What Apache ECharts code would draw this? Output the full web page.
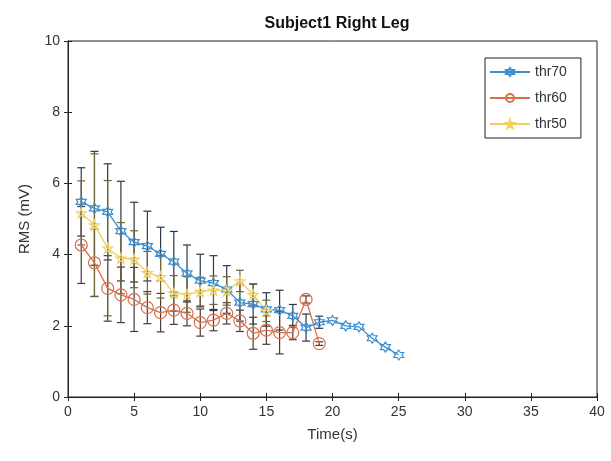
<!DOCTYPE html>
<html>
<head>
<meta charset="utf-8">
<script src="https://cdn.jsdelivr.net/npm/echarts@6/dist/echarts.min.js"></script>
<style>
html, body { margin: 0; padding: 0; background: #fff; }
#chart { width: 611px; height: 461px; }
</style>
</head>
<body>
<div id="chart"></div>
<script>
// time (s)
var t70 = [1, 2, 3, 4, 5, 6, 7, 8, 9, 10, 11, 12, 13, 14, 15, 16, 17, 18, 19, 20, 21, 22, 23, 24, 25];
var t60 = [1, 2, 3, 4, 5, 6, 7, 8, 9, 10, 11, 12, 13, 14, 15, 16, 17, 18, 19];
var t50 = [1, 2, 3, 4, 5, 6, 7, 8, 9, 10, 11, 12, 13, 14, 15];

// RMS means (mV)
var thr70 = [5.48, 5.3, 5.2, 4.66, 4.35, 4.24, 4.02, 3.8, 3.47, 3.27, 3.2, 3.02, 2.65, 2.61, 2.46, 2.44, 2.28, 1.95, 2.1, 2.15, 2.0, 1.97, 1.65, 1.4, 1.18];
var thr60 = [4.27, 3.77, 3.05, 2.87, 2.74, 2.51, 2.37, 2.44, 2.35, 2.09, 2.16, 2.35, 2.14, 1.79, 1.88, 1.81, 1.81, 2.74, 1.5];
var thr50 = [5.17, 4.83, 4.18, 3.9, 3.87, 3.49, 3.38, 2.91, 2.88, 2.96, 3.0, 2.98, 3.26, 2.88, 2.42];

// standard deviations
var err70 = [0.96, 1.6, 1.35, 1.4, 1.12, 0.98, 0.75, 0.85, 0.8, 0.74, 0.77, 0.67, 0.52, 0.56, 0.47, 0.56, 0.32, 0.38, 0.17, 0, 0, 0, 0, 0, 0];
var err60 = [1.08, 0.95, 0.92, 0.78, 0.9, 0.45, 0.54, 0.4, 0.35, 0.38, 0.3, 0.3, 0.3, 0.45, 0.4, 0.6, 0.2, 0.1, 0.05];
var err50 = [0.9, 2.0, 1.9, 1.0, 0.8, 0.6, 0.6, 0.5, 0.5, 0.4, 0.4, 0.4, 0.3, 0.3, 0.3];

var xTicks = [0, 5, 10, 15, 20, 25, 30, 35, 40];
var yTicks = [0, 2, 4, 6, 8, 10];

function starPath(n, rIn) {
    var pts = [];
    for (var i = 0; i < n * 2; i++) {
        var r = i % 2 === 0 ? 1 : rIn;
        var a = -Math.PI / 2 + i * Math.PI / n;
        pts.push((50 + 50 * r * Math.cos(a)).toFixed(2) + ',' + (50 + 50 * r * Math.sin(a)).toFixed(2));
    }
    return 'path://M' + pts.join('L') + 'Z';
}
var hexagram = starPath(6, 0.577);
var pentagram = starPath(5, 0.382);

function pairs(xs, ys) {
    return xs.map(function (x, i) { return [x, ys[i]]; });
}
function errData(xs, ys, es) {
    var out = [];
    for (var i = 0; i < xs.length; i++) {
        if (es[i] > 0) out.push([xs[i], ys[i] - es[i], ys[i] + es[i]]);
    }
    return out;
}
function errSeries(name, data, color) {
    return {
        name: name,
        type: 'custom',
        data: data,
        encode: { x: 0, y: [1, 2] },
        z: 1,
        silent: true,
        renderItem: function (params, api) {
            var x = api.value(0);
            var hi = api.coord([x, api.value(2)]);
            var lo = api.coord([x, api.value(1)]);
            var w = 4;
            var st = { stroke: color, lineWidth: 1.2 };
            return {
                type: 'group',
                children: [
                    { type: 'line', shape: { x1: hi[0], y1: hi[1], x2: lo[0], y2: lo[1] }, style: st },
                    { type: 'line', shape: { x1: hi[0] - w, y1: hi[1], x2: hi[0] + w, y2: hi[1] }, style: st },
                    { type: 'line', shape: { x1: lo[0] - w, y1: lo[1], x2: lo[0] + w, y2: lo[1] }, style: st }
                ]
            };
        }
    };
}
function lineSeries(name, data, color, symbol, size) {
    return {
        name: name,
        type: 'line',
        data: data,
        z: 3,
        symbol: symbol,
        symbolSize: size,
        showAllSymbol: true,
        lineStyle: { color: color, width: 1.3 },
        itemStyle: { color: 'rgba(255,255,255,0)', borderColor: color, borderWidth: 1.2 }
    };
}

var c70 = '#3b8fd0', c60 = '#d8704c', c50 = '#f2d060';

var myChart = echarts.init(document.getElementById('chart'));
var axisFont = { fontFamily: 'Liberation Sans, Arial, sans-serif', fontSize: 14, color: '#333' };
var option = {
    backgroundColor: '#fff',
    animation: false,
    title: {
        text: 'Subject1 Right Leg',
        left: 332,
        textAlign: 'center',
        top: 11,
        textStyle: { fontFamily: 'Liberation Sans, Arial, sans-serif', fontSize: 16, fontWeight: 'bold', color: '#111' }
    },
    legend: {
        data: ['thr70', 'thr60', 'thr50'],
        orient: 'vertical',
        left: 485,
        top: 58,
        itemWidth: 40,
        itemHeight: 10,
        itemGap: 12,
        padding: [7, 14, 7, 4],
        borderColor: '#222',
        borderWidth: 1,
        backgroundColor: '#fff',
        textStyle: { fontFamily: 'Liberation Sans, Arial, sans-serif', fontSize: 14, color: '#333' }
    },
    grid: { left: 68, right: 14, top: 41, bottom: 64, show: true, borderColor: '#222', borderWidth: 1, backgroundColor: 'transparent' },
    xAxis: [{
        type: 'value',
        min: xTicks[0],
        max: xTicks[xTicks.length - 1],
        interval: 5,
        name: 'Time(s)',
        nameLocation: 'middle',
        nameGap: 30,
        nameTextStyle: { fontFamily: 'Liberation Sans, Arial, sans-serif', fontSize: 15, color: '#333' },
        axisLine: { lineStyle: { color: '#222' } },
        axisTick: { inside: true, length: 4, lineStyle: { color: '#222' } },
        axisLabel: axisFont,
        splitLine: { show: false }
    }, {
        type: 'value',
        position: 'top',
        min: xTicks[0],
        max: xTicks[xTicks.length - 1],
        interval: 5,
        axisLine: { lineStyle: { color: '#222' } },
        axisTick: { inside: true, length: 4, lineStyle: { color: '#222' } },
        axisLabel: { show: false },
        splitLine: { show: false }
    }],
    yAxis: [{
        type: 'value',
        min: yTicks[0],
        max: yTicks[yTicks.length - 1],
        interval: 2,
        name: 'RMS (mV)',
        nameLocation: 'middle',
        nameGap: 36,
        nameTextStyle: { fontFamily: 'Liberation Sans, Arial, sans-serif', fontSize: 15, color: '#333' },
        axisLine: { show: true, lineStyle: { color: '#222' } },
        axisTick: { show: true, inside: true, length: 4, lineStyle: { color: '#222' } },
        axisLabel: axisFont,
        splitLine: { show: false }
    }, {
        type: 'value',
        position: 'right',
        min: yTicks[0],
        max: yTicks[yTicks.length - 1],
        interval: 2,
        axisLine: { show: true, lineStyle: { color: '#222' } },
        axisTick: { show: true, inside: true, length: 4, lineStyle: { color: '#222' } },
        axisLabel: { show: false },
        splitLine: { show: false }
    }],
    series: [
        errSeries('thr70 sd', errData(t70, thr70, err70), '#2a3848'),
        errSeries('thr60 sd', errData(t60, thr60, err60), '#4a3c34'),
        errSeries('thr50 sd', errData(t50, thr50, err50), '#6e6638'),
        lineSeries('thr70', pairs(t70, thr70), c70, hexagram, 10),
        lineSeries('thr60', pairs(t60, thr60), c60, 'circle', 12),
        lineSeries('thr50', pairs(t50, thr50), c50, pentagram, 10)
    ]
};
myChart.setOption(option);
</script>
</body>
</html>
